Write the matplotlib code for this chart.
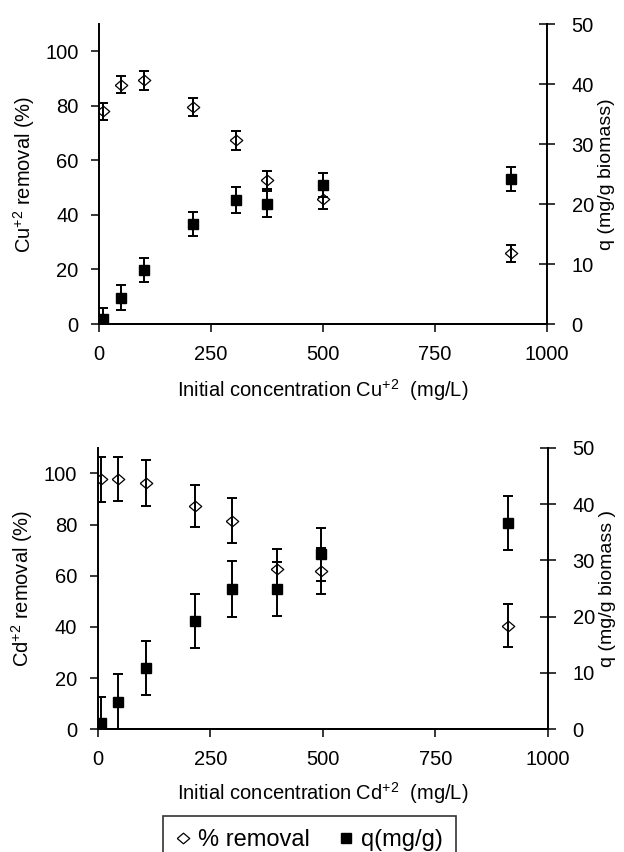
import matplotlib
matplotlib.use("Agg")
import matplotlib.pyplot as plt
from matplotlib.lines import Line2D

plt.rcParams['font.family'] = ['Liberation Sans', 'DejaVu Sans']
plt.rcParams['mathtext.fontset'] = 'custom'
plt.rcParams['mathtext.rm'] = 'Liberation Sans'

# Cu+2 panel
cu_conc = [10, 50, 100, 210, 305, 375, 500, 920]
cu_removal = [78.0, 87.8, 89.3, 79.5, 67.3, 52.8, 45.7, 25.9]
cu_removal_err = [3.1, 3.2, 3.5, 3.2, 3.5, 3.2, 3.5, 3.2]
cu_q = [0.8, 4.4, 9.05, 16.7, 20.7, 20.0, 23.2, 24.2]
cu_q_err = [1.9, 2.05, 2.0, 2.05, 2.2, 2.1, 2.0, 2.05]

# Cd+2 panel
cd_conc = [7, 44, 107, 215, 299, 399, 495, 912]
cd_removal = [97.7, 97.7, 96.1, 87.3, 81.5, 62.5, 61.8, 40.5]
cd_removal_err = [8.8, 8.5, 8.9, 8.3, 8.9, 7.9, 9.0, 8.5]
cd_q = [1.2, 4.9, 10.9, 19.2, 24.9, 24.9, 31.1, 36.6]
cd_q_err = [4.6, 4.85, 4.8, 4.85, 4.9, 4.75, 4.7, 4.85]

x_ticks = [0, 250, 500, 750, 1000]
left_ticks = [0, 20, 40, 60, 80, 100]
right_ticks = [0, 10, 20, 30, 40, 50]

W, H = 624, 852
FS = 14.5
diamond = [(-1, 0), (0, 0.85), (1, 0), (0, -0.85), (-1, 0)]

fig = plt.figure(figsize=(W / 100, H / 100), dpi=100)


def panel(left, right, top, bottom, conc, rem, rem_err, q, q_err, ion, rlabel, xpad):
    ax = fig.add_axes([left / W, 1 - bottom / H, (right - left) / W, (bottom - top) / H])
    ax2 = ax.twinx()

    ax.errorbar(conc, rem, yerr=rem_err, fmt='none', ecolor='black',
                elinewidth=1.4, capsize=3.3, capthick=1.4)
    ax.plot(conc, rem, linestyle='none', marker=diamond, markersize=9,
            markerfacecolor='none', markeredgecolor='black', markeredgewidth=0.9)
    ax2.errorbar(conc, q, yerr=q_err, fmt='none', ecolor='black',
                 elinewidth=1.4, capsize=3.3, capthick=1.4)
    ax2.plot(conc, q, linestyle='none', marker='s', markersize=7,
             color='black')

    ax.set_xlim(0, 1000)
    ax.set_ylim(0, 110)
    ax2.set_ylim(0, 50)
    ax.set_xticks(x_ticks)
    ax.set_yticks(left_ticks)
    ax2.set_yticks(right_ticks)

    for a in (ax, ax2):
        a.spines['top'].set_visible(False)
        for s in a.spines.values():
            s.set_linewidth(1.4)
    ax.spines['right'].set_visible(False)
    ax2.spines['left'].set_visible(False)

    ax.tick_params(axis='both', direction='out', length=5.8, width=1.1,
                   pad=9, labelsize=FS)
    ax2.tick_params(axis='y', direction='inout', length=11.5, width=1.1,
                    pad=12, labelsize=FS)

    ax.set_xlabel('Initial concentration ' + ion + r'$^{\mathregular{+2}}$  (mg/L)',
                  fontsize=FS, labelpad=xpad)
    ax.set_ylabel(ion + r'$^{\mathregular{+2}}$ removal (%)', fontsize=FS, labelpad=6)
    ax2.set_ylabel(rlabel, fontsize=14, labelpad=3)
    return ax


panel(99, 547, 24, 324, cu_conc, cu_removal, cu_removal_err, cu_q, cu_q_err,
      'Cu', 'q (mg/g biomass)', 10)
panel(97.7, 548, 447.7, 729.3, cd_conc, cd_removal, cd_removal_err, cd_q, cd_q_err,
      'Cd', 'q (mg/g biomass )', 8)

handles = [
    Line2D([], [], linestyle='none', marker=diamond, markersize=9,
           markerfacecolor='none', markeredgecolor='black', markeredgewidth=0.9),
    Line2D([], [], linestyle='none', marker='s', markersize=7, color='black'),
]
leg = fig.legend(handles, ['% removal', 'q(mg/g)'], loc='upper center',
                 bbox_to_anchor=(309.5 / W, 1 - 816 / H), ncol=2, fontsize=17,
                 frameon=True, fancybox=False, handlelength=0.6, handletextpad=0.35,
                 columnspacing=1.2, borderpad=0.55, borderaxespad=0)
leg.get_frame().set_edgecolor('black')
leg.get_frame().set_linewidth(1.2)

fig.savefig('out.png', dpi=100)
